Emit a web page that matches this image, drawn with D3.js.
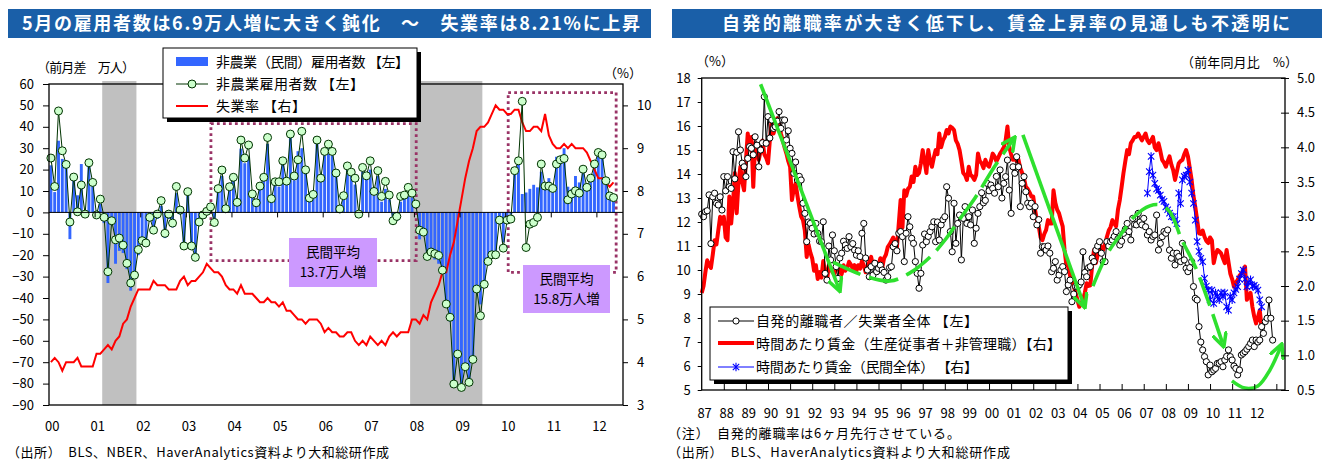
<!DOCTYPE html>
<html><head><meta charset="utf-8">
<script src="https://cdn.jsdelivr.net/npm/d3@7/dist/d3.min.js"></script>
<style>
body{margin:0;background:#fff;}
svg{display:block;font-family:"Noto Sans CJK JP","Noto Sans",sans-serif;}
.axis path,.axis line{stroke:#000;}
.axis text{fill:#000;font-size:13px;font-family:"Noto Sans CJK JP",sans-serif;}
</style></head><body>
<svg id="chart" width="1330" height="461"></svg>
<script>
// ---------- LEFT CHART DATA (monthly, Jan 2000 - May 2012) ----------
// total nonfarm payroll change, 10k persons
const nfpTotal = [
  25.4,12.1,47.4,28.8,22.4,-4.5,16.5,0.3,12.8,-0.8,23.2,14.0,
  -1.2,6.2,-2.3,-27.7,-3.9,-12.8,-12.0,-15.3,-23.8,-33.0,-29.3,-17.4,
  -13.2,-14.3,-2.3,-8.3,-0.8,5.5,-9.8,-0.8,-5.0,12.1,1.1,-15.7,
  9.7,-15.7,-21.0,-4.5,-1.2,0.5,2.6,-4.7,11.1,19.8,1.7,12.0,
  16.4,4.7,33.8,25.4,31.5,8.6,4.5,12.3,16.4,35.0,6.4,14.3,
  14.3,24.1,14.6,36.6,17.0,24.6,37.9,19.9,6.7,8.4,33.8,16.0,
  28.5,31.9,28.5,18.4,1.6,7.8,21.7,18.8,16.0,-0.8,21.0,17.1,
  24.1,9.8,19.5,7.5,14.5,8.1,-3.9,-1.9,7.5,8.1,11.7,9.0,
  3.9,-8.3,-9.2,-20.6,-18.5,-19.3,-20.1,-27.0,-42.8,-49.0,-80.2,-66.2,
  -81.8,-72.1,-79.4,-68.7,-35.8,-48.3,-33.6,-22.9,-19.8,-19.8,-3.6,-16.7,
  -3.6,-3.1,19.5,24.1,51.9,-16.4,-5.5,-4.7,-2.3,22.6,12.3,12.3,
  11.2,22.6,24.6,25.2,5.9,8.6,10.1,9.0,20.2,11.7,16.0,22.6,
  28.0,26.9,14.8,7.7,6.9
];
// private nonfarm payroll change, 10k persons
const nfpPrivate = [
  22,9.5,33.5,25,21,-12.5,16,8,22.6,-1,22,14,
  -3,4,-5,-33,-6,-24,-18,-19,-26.5,-36.6,-31,-20,
  -14,-16,-4,-10,-3,3,-12,-3,-7,9,-1,-17,
  8,-17,-22,-6,-3,-1,1,-6,10,17,1,10,
  15.6,4,29.8,23,26,8,4,11,15,32,5,13,
  12,23,13,35,15,28.6,30,19,6,8,33,15,
  27,30,27,17,1,7,20,17,13,-2,19,16,
  20,8,17,5,11,6,-5,-4,5,7,9,7,
  -1,-12.6,-11,-22,-20,-22,-24,-29,-44,-51,-80,-68,
  -82,-72,-80,-70,-35,-43,-32,-23,-20,-19,-2,-14,
  -2,-1,18.7,23,8.6,9.3,11,12.9,11.7,19,13,16,
  13,26,25,30,12,11,17,14,21,12,16,22,
  28.5,26,16,8.5,8.2
];
// unemployment rate, %
const unempRate = [
  4.0,4.1,4.0,3.8,4.0,4.0,4.0,4.1,3.9,3.9,3.9,3.9,
  4.2,4.2,4.3,4.4,4.3,4.5,4.6,4.9,5.0,5.3,5.5,5.7,
  5.7,5.7,5.7,5.9,5.8,5.8,5.8,5.7,5.7,5.7,5.9,6.0,
  5.8,5.9,5.9,6.0,6.1,6.3,6.2,6.1,6.1,6.0,5.8,5.7,
  5.7,5.6,5.8,5.6,5.6,5.6,5.5,5.4,5.4,5.5,5.4,5.4,
  5.3,5.4,5.2,5.2,5.1,5.0,5.0,4.9,5.0,5.0,5.0,4.9,
  4.7,4.8,4.7,4.7,4.6,4.6,4.7,4.7,4.5,4.4,4.5,4.4,
  4.6,4.5,4.4,4.5,4.4,4.6,4.7,4.6,4.7,4.7,4.7,5.0,
  5.0,4.9,5.1,5.0,5.4,5.6,5.8,6.1,6.1,6.5,6.8,7.3,
  7.8,8.3,8.7,9.0,9.4,9.5,9.5,9.6,9.8,10.0,9.9,9.9,
  9.8,9.8,9.9,9.9,9.6,9.4,9.4,9.5,9.5,9.4,9.8,9.3,
  9.1,9.0,9.0,9.1,9.0,9.1,9.0,9.0,9.0,8.9,8.7,8.5,
  8.3,8.3,8.2,8.1,8.2
];
const yearLabelsL = ["00","01","02","03","04","05","06","07","08","09","10","11","12"];
// recessions as month index ranges from Jan 2000
const recessionsL = [[14, 23], [95, 114]];
// private average periods: month index range and value range of the dotted frame
const avgPeriods = [
  {from: 42.6, to: 96.6, hi: 41.5, lo: -22.5, text: ["民間平均", "13.7万人増"]},
  {from: 120.8, to: 149.2, hi: 56, lo: -28, text: ["民間平均", "15.8万人増"]}
];

// ---------- RIGHT CHART DATA (monthly from Jan 1987) ----------
// job leavers / total unemployed (%), led 6 months
const quitsShare = [
  12.33,12.22,12.43,12.47,13.13,11.1,13.05,13.2,12.78,12.71,13.05,12.5,
  13.89,13.3,13.89,13.47,13.4,14.93,13.8,14.9,15.76,15.0,14.45,14.3,
  13.89,14.65,15.14,15.07,14.8,15.55,15.2,14.3,15.0,15.3,17.22,15.28,
  16.39,15.5,16.25,15.9,15.97,16.2,16.6,15.9,16.25,16.25,15.42,15.8,
  15.07,14.86,14.03,14.5,13.75,13.9,13.75,12.78,12.36,11.18,12.0,11.94,
  11.74,11.5,11.94,11.53,11.2,11.18,12.01,9.86,9.58,11.0,10.42,11.46,
  10.8,10.14,9.65,10.5,10.7,11.2,11.04,10.9,11.39,10.97,11.1,10.83,
  10.62,10.8,10.56,11.53,11.94,10.5,10.0,9.72,10.14,9.79,10.28,9.93,
  10.07,10.2,10.0,9.9,9.58,9.72,10.1,10.14,10.97,11.1,10.8,11.53,
  11.6,11.39,10.35,11.53,12.22,11.8,11.32,11.11,10.35,9.86,9.24,9.86,
  11.04,11.5,11.18,11.4,11.6,11.8,12.01,11.18,12.0,11.25,11.88,12.1,
  12.22,13.47,12.99,11.6,10.76,12.78,11.11,11.94,12.29,10.42,12.15,12.64,
  11.94,12.22,11.88,12.5,11.11,11.74,12.36,12.64,13.22,12.8,12.9,13.61,
  13.3,13.54,13.4,13.2,13.9,13.47,14.17,13.0,13.61,13.89,14.58,13.33,
  12.36,14.3,14.03,14.72,14.3,12.64,13.61,13.89,13.26,12.78,12.64,12.78,
  12.22,12.64,11.88,12.1,10.7,10.97,10.97,10.83,11.0,10.7,9.93,10.07,
  10.35,9.58,9.79,10.0,10.14,9.93,9.1,9.38,9.58,8.68,9.0,9.31,
  9.3,9.38,9.5,10.76,9.9,9.72,10.1,10.14,10.5,10.35,10.83,11.0,
  11.18,10.7,10.35,10.35,11.18,11.0,11.18,11.25,11.4,11.6,11.3,11.04,
  11.2,11.53,11.7,11.94,11.6,11.25,12.15,11.9,11.88,12.36,12.0,11.88,
  12.15,11.8,11.46,11.6,11.25,11.4,11.46,12.29,10.83,11.11,11.39,11.6,
  11.53,11.67,10.83,10.49,10.7,10.21,10.7,10.56,10.35,11.11,10.42,10.07,
  9.93,10.1,10.35,9.31,8.82,8.75,7.64,7.0,6.67,6.39,6.18,5.63,
  6.04,5.76,5.83,5.9,6.11,6.11,6.18,5.97,6.25,6.4,6.67,6.39,
  6.25,6.0,5.9,5.63,5.83,6.46,6.53,6.6,6.7,6.81,6.94,7.08,
  6.81,7.08,7.0,7.08,7.64,7.36,7.85,7.99,8.75,7.99,7.08
];
// hourly earnings, production & nonsupervisory, y/y %
const wageProd = [
  1.9,2.0,2.2,2.37,2.3,2.26,2.45,2.66,2.6,2.8,3.0,2.9,
  3.0,2.7,2.66,3.29,2.9,3.2,3.63,3.05,3.5,3.72,3.5,3.38,
  3.8,4.2,4.0,4.15,3.43,4.06,3.9,3.82,3.95,4.1,3.9,3.85,
  3.77,4.1,4.39,4.2,4.3,4.42,4.35,4.2,4.1,4.0,3.91,3.8,
  3.72,3.24,3.4,3.48,3.3,3.14,3.0,2.95,2.8,2.42,2.6,2.48,
  2.4,2.22,2.3,2.1,2.2,2.12,2.36,2.2,2.07,2.3,2.26,2.2,
  2.17,2.25,2.31,2.2,2.17,2.3,2.22,2.26,2.35,2.31,2.25,2.3,
  2.22,2.3,2.25,2.36,2.3,2.2,2.26,2.35,2.42,2.3,2.35,2.31,
  2.3,2.4,2.26,2.4,2.45,2.56,2.6,2.65,2.7,2.6,2.56,2.9,
  3.24,2.84,3.38,3.3,3.4,3.43,3.58,3.5,3.72,3.6,3.63,3.77,
  3.96,3.8,3.63,3.96,3.8,3.72,3.85,3.96,3.9,4.2,4.0,4.1,
  4.15,4.25,4.2,4.3,4.28,4.25,4.1,4.05,3.96,3.8,3.63,3.6,
  3.53,3.72,3.6,3.58,3.53,3.6,3.91,3.8,3.77,3.7,3.82,3.75,
  3.72,3.8,3.91,3.87,3.8,3.85,3.91,3.95,4.0,4.1,4.3,4.0,
  3.9,3.82,3.85,3.8,3.82,3.7,3.63,3.55,3.43,3.4,3.35,3.29,
  3.29,3.1,2.95,2.86,2.7,2.66,2.75,2.81,2.95,2.9,2.9,3.38,
  3.2,3.1,3.05,2.95,2.86,2.52,2.3,2.28,2.15,2.09,2.0,1.9,
  1.8,1.7,1.75,1.8,1.9,2.04,2.0,2.01,2.3,2.52,2.33,2.45,
  2.62,2.55,2.52,2.6,2.71,2.8,2.85,2.95,2.9,2.86,3.1,3.24,
  3.43,3.63,3.8,3.96,3.9,4.06,4.1,4.15,4.15,4.2,4.15,4.1,
  4.15,4.2,4.1,4.06,4.1,4.15,4.0,3.96,4.06,3.95,3.82,3.78,
  3.72,3.8,3.87,3.75,3.67,3.53,3.65,3.77,3.8,3.82,3.9,3.96,
  3.87,3.7,3.53,3.3,3.14,2.95,2.76,2.75,2.8,2.71,2.65,2.62,
  2.7,2.66,2.33,2.45,2.52,2.5,2.47,2.4,2.33,2.52,2.35,2.18,
  2.1,1.99,2.05,2.09,2.15,2.18,2.22,2.28,1.8,1.85,1.9,1.7,
  1.56,1.46,1.55,1.65,1.39
];
// hourly earnings, all private, y/y %, from Mar 2007
const wagePrivStart = 242;
const wagePriv = [
  3.34,3.65,3.87,3.6,3.48,3.4,3.38,3.31,3.25,3.22,
  3.14,3.1,3.05,3.0,3.0,2.95,2.9,3.34,3.19,3.53,3.58,3.6,
  3.67,3.5,3.34,3.19,2.95,2.64,2.5,2.4,2.35,2.11,2.0,1.94,
  1.8,1.94,1.75,1.9,1.85,1.8,1.9,1.85,1.9,1.7,1.65,1.85,
  1.8,1.9,1.95,1.99,2.1,2.18,2.23,2.1,1.99,2.05,2.09,2.0,
  2.01,1.98,1.94,1.8,1.7
];
const yearLabelsR = ["87","88","89","90","91","92","93","94","95","96","97","98","99",
                     "00","01","02","03","04","05","06","07","08","09","10","11","12"];
// hand-drawn trend arrows: [month index from Jan 1987, left-axis value]
const trendSolid1 = [[32, 17.74], [75.1, 9.1]];
const trendDash1 = [[71.3,10.33],[88.7,9.75],[102.2,9.54],[113.1,9.88],[124,10.54],[132.1,11.25],
                    [140.2,12.13],[148.4,13.0],[159.2,14.33],[170.1,15.54]];
const trendSolid2 = [[174.4, 15.63], [208.1, 8.42]];
const trendDash2 = [[212.4,9.33],[220.5,10.71],[228.1,11.54],[235.2,12.25],[243.3,12.67],[248.8,12.71],
                    [254.2,12.42],[260.7,11.25],[267.8,10.17],[274.8,8.75],[283.5,6.79]];
const trendSolid3 = [[287.9,5.38],[294.9,5.08],[302,5.17],[308.5,5.83],[315,6.92]];

// ---------- COLOURS ----------
const navy = "#1a5fa8",
  barBlue = "#3366ff",
  red = "#ff0000",
  ptFill = "#ccffcc",
  ptStroke = "#003300",
  grey = "#c0c0c0",
  plum = "#993366",
  lilac = "#cc99ff",
  green = "#2ee02e";

const svg = d3.select("#chart");

// title bars
function titleBar(x0, x1, text, tx, len) {
  svg.append("rect").attr("x", x0).attr("y", 9).attr("width", x1 - x0).attr("height", 29).attr("fill", navy);
  svg.append("text").attr("x", tx).attr("y", 30).attr("fill", "#fff")
    .attr("textLength", len).attr("lengthAdjust", "spacing")
    .style("font-size", "18px").style("font-weight", "bold")
    .text(text);
}
titleBar(8, 651, "5月の雇用者数は6.9万人増に大きく鈍化　～　失業率は8.21%に上昇", 22, 618);
titleBar(672, 1322, "自発的離職率が大きく低下し、賃金上昇率の見通しも不透明に", 722, 568);

// ================= LEFT CHART =================
const L = { left: 49, right: 623, top: 84, bottom: 405 };
const xL = d3.scaleLinear().domain([0, 151]).range([L.left, L.right]);
const yL = d3.scaleLinear().domain([-90, 60]).range([L.bottom, L.top]);
const yLr = d3.scaleLinear().domain([3, 10.5]).range([L.bottom, L.top]);
const gL = svg.append("g");

// recession shading
gL.selectAll(".rec").data(recessionsL).enter().append("rect")
  .attr("x", d => xL(d[0])).attr("width", d => xL(d[1]) - xL(d[0]))
  .attr("y", L.top - 3).attr("height", L.bottom - L.top + 3).attr("fill", grey);

// private payroll bars
const slot = xL(1) - xL(0);
gL.append("g").selectAll("rect").data(nfpPrivate).enter().append("rect")
  .attr("x", (d, i) => xL(i) + 0.45)
  .attr("width", slot - 0.9)
  .attr("y", d => Math.min(yL(d), yL(0)))
  .attr("height", d => Math.abs(yL(d) - yL(0)))
  .attr("fill", barBlue);

// dotted frames for average periods
avgPeriods.forEach(p => {
  gL.append("rect")
    .attr("x", xL(p.from)).attr("y", yL(p.hi))
    .attr("width", xL(p.to) - xL(p.from)).attr("height", yL(p.lo) - yL(p.hi))
    .attr("fill", "none").attr("stroke", plum).attr("stroke-width", 2.8)
    .attr("stroke-dasharray", "2.8 3.2");
});

// unemployment line (right axis)
gL.append("path").datum(unempRate)
  .attr("d", d3.line().x((d, i) => xL(i + 0.5)).y(d => yLr(d)))
  .attr("fill", "none").attr("stroke", red).attr("stroke-width", 2);

// total payroll line + markers
gL.append("path").datum(nfpTotal)
  .attr("d", d3.line().x((d, i) => xL(i + 0.5)).y(d => yL(d)))
  .attr("fill", "none").attr("stroke", ptStroke).attr("stroke-width", 1);
gL.append("g").selectAll("circle").data(nfpTotal).enter().append("circle")
  .attr("cx", (d, i) => xL(i + 0.5)).attr("cy", d => yL(d)).attr("r", 4)
  .attr("fill", ptFill).attr("stroke", ptStroke).attr("stroke-width", 1);

// average labels
const labBoxes = [{ x: 289, y: 238, w: 88, h: 49 }, { x: 523, y: 265, w: 87, h: 48 }];
avgPeriods.forEach((p, k) => {
  const b = labBoxes[k];
  gL.append("rect").attr("x", b.x).attr("y", b.y).attr("width", b.w).attr("height", b.h).attr("fill", lilac);
  p.text.forEach((t, j) => {
    gL.append("text").attr("x", b.x + b.w / 2).attr("y", b.y + 19 + j * 20)
      .attr("text-anchor", "middle").style("font-size", "13.5px").text(t);
  });
});

// axes
gL.append("g").attr("class", "axis").attr("transform", `translate(${L.left},0)`)
  .call(d3.axisLeft(yL).tickValues(d3.range(-90, 61, 10)).tickSize(6).tickPadding(9).tickFormat(d3.format("d")))
  .call(g => g.select(".domain").remove());
gL.append("g").attr("class", "axis").attr("transform", `translate(${L.right},0)`)
  .call(d3.axisRight(yLr).tickValues(d3.range(3, 11)).tickSize(5).tickPadding(9))
  .call(g => g.select(".domain").remove());
gL.append("g").attr("class", "axis").attr("transform", `translate(0,${yL(0)})`)
  .call(d3.axisBottom(xL).tickValues(d3.range(12, 151, 12)).tickSize(5).tickFormat(""))
  .call(g => g.select(".domain").remove());
gL.append("line").attr("x1", L.left).attr("x2", L.right).attr("y1", yL(0)).attr("y2", yL(0)).attr("stroke", "#000");
gL.append("g").attr("class", "axis").attr("transform", `translate(0,${L.bottom + 14})`)
  .call(d3.axisBottom(xL).tickValues(d3.range(0, 151, 12).map(m => m + 0.7)).tickSize(0)
    .tickFormat((d, i) => yearLabelsL[i]))
  .call(g => g.select(".domain").remove());
gL.append("rect").attr("x", L.left).attr("y", L.top).attr("width", L.right - L.left).attr("height", L.bottom - L.top)
  .attr("fill", "none").attr("stroke", "#000").attr("stroke-width", 1.3);

// unit labels
svg.append("text").attr("x", 37).attr("y", 72).attr("textLength", 98).style("font-size", "13px").text("（前月差　万人）");
svg.append("text").attr("x", 604).attr("y", 78).style("font-size", "13px").text("（%）");

// legend
const lg = gL.append("g");
lg.append("rect").attr("x", 167).attr("y", 52).attr("width", 254).attr("height", 70).attr("fill", "#000");
lg.append("rect").attr("x", 163).attr("y", 48).attr("width", 254).attr("height", 70)
  .attr("fill", "#fff").attr("stroke", "#000").attr("stroke-width", 1);
lg.append("rect").attr("x", 176).attr("y", 57).attr("width", 32).attr("height", 9).attr("fill", barBlue);
lg.append("line").attr("x1", 176).attr("x2", 208).attr("y1", 84).attr("y2", 84).attr("stroke", ptStroke);
lg.append("circle").attr("cx", 192).attr("cy", 84).attr("r", 4).attr("fill", ptFill).attr("stroke", ptStroke);
lg.append("line").attr("x1", 176).attr("x2", 208).attr("y1", 106).attr("y2", 106).attr("stroke", red).attr("stroke-width", 2);
[["非農業（民間）雇用者数 【左】", 67, 193], ["非農業雇用者数 【左】", 89, 148], ["失業率 【右】", 111, 90]].forEach(d => {
  lg.append("text").attr("x", 216).attr("y", d[1]).attr("textLength", d[2]).style("font-size", "14px").text(d[0]);
});

svg.append("text").attr("x", 7).attr("y", 457).attr("textLength", 382).style("font-size", "13px")
  .text("（出所）　BLS、NBER、HaverAnalytics資料より大和総研作成");

// ================= RIGHT CHART =================
const R = { left: 701.7, right: 1285, top: 78, bottom: 390 };
const xR = d3.scaleLinear().domain([0, 316.7]).range([R.left, R.right]);
const yR = d3.scaleLinear().domain([5, 18]).range([R.bottom, R.top]);
const yRr = d3.scaleLinear().domain([0.5, 5]).range([R.bottom, R.top]);
const gR = svg.append("g");

// red wage line
gR.append("path").datum(wageProd)
  .attr("d", d3.line().x((d, i) => xR(i)).y(d => yRr(d)))
  .attr("fill", "none").attr("stroke", red).attr("stroke-width", 4).attr("stroke-linejoin", "round");

// quits share line + circles
gR.append("path").datum(quitsShare)
  .attr("d", d3.line().x((d, i) => xR(i)).y(d => yR(d)))
  .attr("fill", "none").attr("stroke", "#000").attr("stroke-width", 1);
gR.append("g").selectAll("circle").data(quitsShare).enter().append("circle")
  .attr("cx", (d, i) => xR(i)).attr("cy", d => yR(d)).attr("r", 3.1)
  .attr("fill", "#fff").attr("stroke", "#000").attr("stroke-width", 1);

// blue wage line with star markers
function star(g, x, y, s, col) {
  g.append("path")
    .attr("d", `M${x - s},${y - s}L${x + s},${y + s}M${x - s},${y + s}L${x + s},${y - s}M${x},${y - s * 1.3}L${x},${y + s * 1.3}`)
    .attr("stroke", col).attr("stroke-width", 1.1).attr("fill", "none");
}
gR.append("path").datum(wagePriv)
  .attr("d", d3.line().x((d, i) => xR(i + wagePrivStart)).y(d => yRr(d)))
  .attr("fill", "none").attr("stroke", "#0000ff").attr("stroke-width", 1);
const stars = gR.append("g");
wagePriv.forEach((d, i) => star(stars, xR(i + wagePrivStart), yRr(d), 3.2, "#0000ff"));

// green trend arrows
const defs = svg.append("defs");
defs.append("marker").attr("id", "gArrow").attr("viewBox", "0 0 10 10").attr("refX", 9).attr("refY", 5)
  .attr("markerWidth", 16).attr("markerHeight", 16).attr("markerUnits", "userSpaceOnUse").attr("orient", "auto")
  .append("path").attr("d", "M0,0.5L9,5L0,9.5").attr("fill", "none").attr("stroke", green).attr("stroke-width", 2.2);
const trendLine = d3.line().x(d => xR(d[0])).y(d => yR(d[1])).curve(d3.curveCatmullRom);
[[trendSolid1, null], [trendDash1, "30 9"], [trendSolid2, null], [trendDash2, "30 9"], [trendSolid3, null]]
  .forEach(([pts, dash]) => {
    gR.append("path").datum(pts).attr("d", trendLine)
      .attr("fill", "none").attr("stroke", green).attr("stroke-width", 3.6)
      .attr("stroke-dasharray", dash).attr("marker-end", "url(#gArrow)");
  });

// axes
gR.append("g").attr("class", "axis").attr("transform", `translate(${R.left},0)`)
  .call(d3.axisLeft(yR).tickValues(d3.range(5, 19)).tickSize(4).tickPadding(7))
  .call(g => g.select(".domain").remove());
gR.append("g").attr("class", "axis").attr("transform", `translate(${R.right},0)`)
  .call(d3.axisRight(yRr).tickValues(d3.range(0.5, 5.01, 0.5)).tickSize(4).tickPadding(8).tickFormat(d3.format(".1f")))
  .call(g => g.selectAll(".tick line").attr("x1", -4))
  .call(g => g.select(".domain").remove());
gR.append("g").attr("class", "axis").attr("transform", `translate(0,${R.bottom})`)
  .call(d3.axisTop(xR).tickValues(d3.range(12, 313, 12)).tickSize(6).tickFormat(""))
  .call(g => g.select(".domain").remove());
gR.append("g").attr("class", "axis").attr("transform", `translate(0,${R.bottom + 16})`)
  .call(d3.axisBottom(xR).tickValues(d3.range(0, 301, 12).map(m => m + 1.3)).tickSize(0)
    .tickFormat((d, i) => yearLabelsR[i]))
  .call(g => g.select(".domain").remove());
gR.append("rect").attr("x", R.left).attr("y", R.top).attr("width", R.right - R.left).attr("height", R.bottom - R.top)
  .attr("fill", "none").attr("stroke", "#000").attr("stroke-width", 1.3);

svg.append("text").attr("x", 696).attr("y", 66).style("font-size", "13px").text("（%）");
svg.append("text").attr("x", 1181).attr("y", 67).attr("textLength", 117).style("font-size", "13px").text("（前年同月比　%）");

// legend
const lr = gR.append("g");
lr.append("rect").attr("x", 714).attr("y", 311).attr("width", 358).attr("height", 73).attr("fill", "#000");
lr.append("rect").attr("x", 710).attr("y", 307).attr("width", 358).attr("height", 73)
  .attr("fill", "#fff").attr("stroke", "#000").attr("stroke-width", 1);
lr.append("line").attr("x1", 718).attr("x2", 754).attr("y1", 321).attr("y2", 321).attr("stroke", "#000");
lr.append("circle").attr("cx", 736).attr("cy", 321).attr("r", 3.1).attr("fill", "#fff").attr("stroke", "#000");
lr.append("line").attr("x1", 718).attr("x2", 754).attr("y1", 343).attr("y2", 343).attr("stroke", red).attr("stroke-width", 4);
lr.append("line").attr("x1", 718).attr("x2", 754).attr("y1", 367).attr("y2", 367).attr("stroke", "#0000ff");
star(lr, 736, 367, 3.2, "#0000ff");
[["自発的離職者／失業者全体 【左】", 326, 222], ["時間あたり賃金（生産従事者＋非管理職）【右】", 349, 305], ["時間あたり賃金（民間全体） 【右】", 372, 222]]
  .forEach(d => lr.append("text").attr("x", 756).attr("y", d[1]).attr("textLength", d[2]).style("font-size", "14px").text(d[0]));

svg.append("text").attr("x", 668).attr("y", 438).attr("textLength", 292).style("font-size", "13px").text("（注）　自発的離職率は6ヶ月先行させている。");
svg.append("text").attr("x", 668).attr("y", 457).attr("textLength", 342).style("font-size", "13px").text("（出所）　BLS、HaverAnalytics資料より大和総研作成");
</script>
</body></html>
